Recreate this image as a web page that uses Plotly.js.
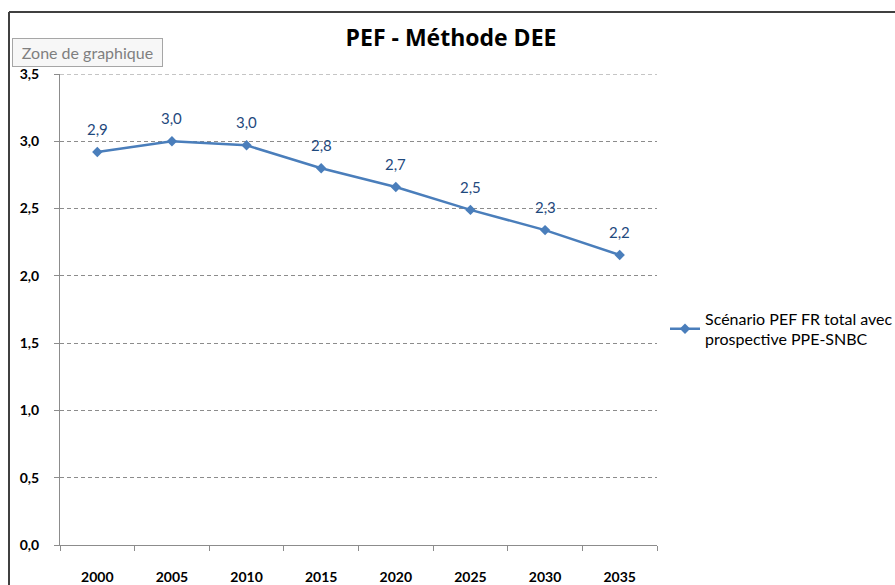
<!DOCTYPE html>
<html>
<head>
<meta charset="utf-8">
<script src="https://cdn.plot.ly/plotly-3.0.1.min.js"></script>
<style>html,body{margin:0;padding:0;background:#fff;overflow:hidden;}#chart{width:895px;height:585px;}</style>
</head>
<body>
<div id="chart"></div>
<script>
var years = ['2000','2005','2010','2015','2020','2025','2030','2035'];
var pef = [2.92, 3.00, 2.97, 2.80, 2.66, 2.49, 2.34, 2.155];
var seriesName = 'Scénario PEF FR total avec<br>prospective PPE-SNBC';
var yTicks = [0, 0.5, 1, 1.5, 2, 2.5, 3, 3.5];

var font = 'Lato, "Open Sans", sans-serif';
var lineColor = '#4A7EBB';
var labelColor = '#1F497D';
var gridColor = '#8C8C8C';

var labels = years.map(function(yr, i){
  return {
    x: i, y: pef[i], xref: 'x', yref: 'y',
    text: pef[i].toFixed(1).replace('.', ','),
    showarrow: false, yshift: 23,
    font: {family: font, size: 15, color: labelColor}
  };
});
labels.push({
  xref: 'paper', yref: 'paper', x: (12-60)/597, y: 1 + (74-52)/471,
  xanchor: 'left', yanchor: 'middle',
  text: 'Zone de graphique', showarrow: false,
  width: 141, align: 'center',
  font: {family: font, size: 16, color: '#7F7F7F'},
  bgcolor: '#F7F7F7', bordercolor: '#A6A6A6', borderwidth: 1, borderpad: 4
});

var trace = {
  x: years, y: pef, type: 'scatter', mode: 'lines+markers',
  name: seriesName,
  line: {color: lineColor, width: 2.5},
  marker: {symbol: 'diamond', size: 8, color: lineColor}
};

var layout = {
  width: 895, height: 585,
  margin: {l: 60, r: 238, t: 74, b: 40, autoexpand: false},
  paper_bgcolor: '#fff', plot_bgcolor: '#fff',
  separators: ', ',
  title: {
    text: '<b>PEF - Méthode DEE</b>',
    font: {family: '"Open Sans", Lato, sans-serif', size: 23, color: '#000'},
    xref: 'container', x: 451/895, xanchor: 'center',
    yref: 'container', y: 1 - 38/585, yanchor: 'middle'
  },
  xaxis: {
    type: 'category',
    range: [-0.5, 7.5],
    showgrid: false, zeroline: false,
    showline: true, linecolor: gridColor, linewidth: 1,
    ticks: 'outside', tickson: 'boundaries', ticklen: 5, tickcolor: gridColor,
    ticklabelstandoff: 19,
    tickfont: {family: font, size: 14, color: '#000', weight: 'bold'}
  },
  yaxis: {
    range: [0, 3.5],
    tickvals: yTicks, tickformat: '.1f',
    showgrid: true, gridcolor: gridColor, griddash: '4px,3px', gridwidth: 1,
    zeroline: false,
    showline: true, linecolor: gridColor, linewidth: 1,
    ticks: 'outside', ticklen: 5, tickcolor: gridColor,
    ticklabelstandoff: 12,
    tickfont: {family: font, size: 14, color: '#000', weight: 'bold'}
  },
  showlegend: true,
  legend: {
    x: (665-60)/597, xanchor: 'left',
    y: 1 - (329-74)/471, yanchor: 'middle',
    font: {family: font, size: 16, color: '#000'},
    itemwidth: 30, bgcolor: 'rgba(0,0,0,0)'
  },
  annotations: labels,
  shapes: [
    {type: 'line', xref: 'paper', yref: 'y', x0: 0, x1: 1,
     y0: yTicks[yTicks.length-1], y1: yTicks[yTicks.length-1],
     line: {color: gridColor, width: 1, dash: '4px,3px'}},
    {type: 'line', xref: 'paper', yref: 'paper', x0: (9-60)/597, x1: (900-60)/597,
     y0: 1 + (74-12)/471, y1: 1 + (74-12)/471, line: {color: '#404040', width: 2}},
    {type: 'line', xref: 'paper', yref: 'paper', x0: (9-60)/597, x1: (9-60)/597,
     y0: 1 + (74-12)/471, y1: -(590-545)/471, line: {color: '#404040', width: 2}}
  ]
};

Plotly.newPlot('chart', [trace], layout, {displayModeBar: false, staticPlot: true});
</script>
</body>
</html>
